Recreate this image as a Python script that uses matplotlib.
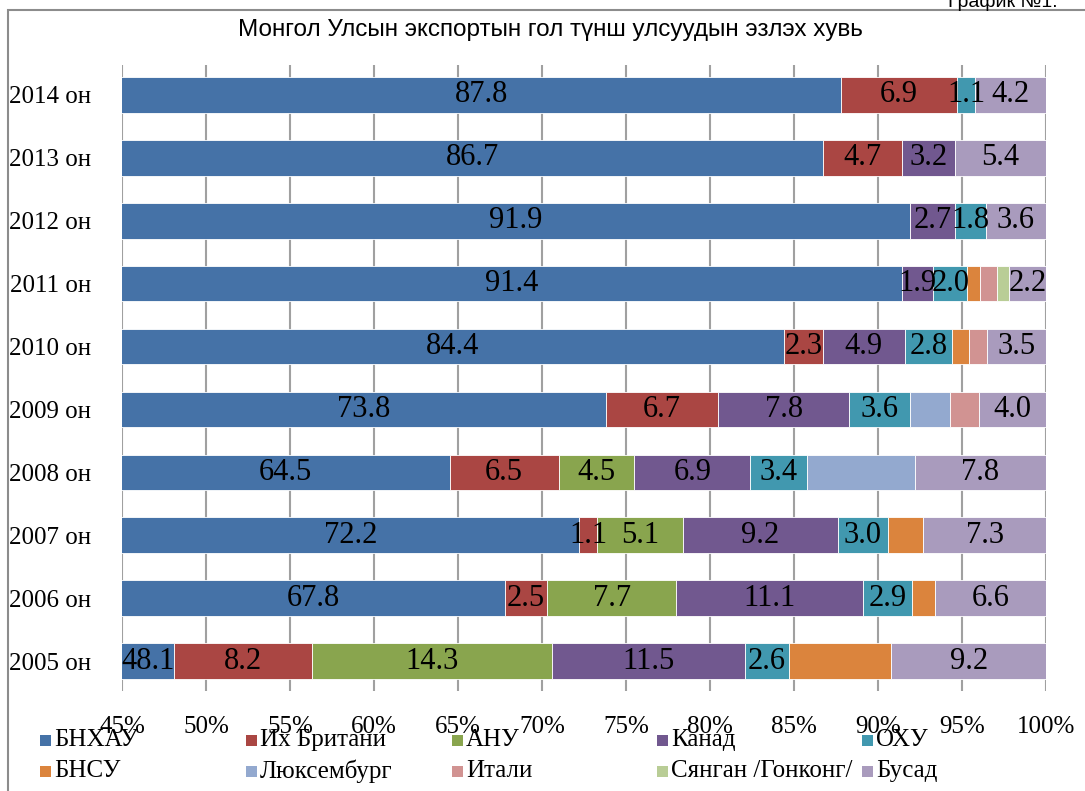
import matplotlib
matplotlib.use("Agg")
import matplotlib.pyplot as plt
from matplotlib.patches import Rectangle

W, H = 1085, 791

years = ["2005 он", "2006 он", "2007 он", "2008 он", "2009 он",
         "2010 он", "2011 он", "2012 он", "2013 он", "2014 он"]

series = ["БНХАУ", "Их Британи", "АНУ", "Канад", "ОХУ",
          "БНСУ", "Люксембург", "Итали", "Сянган /Гонконг/", "Бусад"]

china      = [48.1, 67.8, 72.2, 64.5, 73.8, 84.4, 91.4, 91.9, 86.7, 87.8]
britain    = [8.2, 2.5, 1.1, 6.5, 6.7, 2.3, 0.0, 0.0, 4.7, 6.9]
usa        = [14.3, 7.7, 5.1, 4.5, 0.0, 0.0, 0.0, 0.0, 0.0, 0.0]
canada     = [11.5, 11.1, 9.2, 6.9, 7.8, 4.9, 1.9, 2.7, 3.2, 0.0]
russia     = [2.6, 2.9, 3.0, 3.4, 3.6, 2.8, 2.0, 1.8, 0.0, 1.1]
korea      = [6.1, 1.4, 2.1, 0.0, 0.0, 1.0, 0.8, 0.0, 0.0, 0.0]
luxembourg = [0.0, 0.0, 0.0, 6.4, 2.4, 0.0, 0.0, 0.0, 0.0, 0.0]
italy      = [0.0, 0.0, 0.0, 0.0, 1.7, 1.1, 1.0, 0.0, 0.0, 0.0]
hongkong   = [0.0, 0.0, 0.0, 0.0, 0.0, 0.0, 0.7, 0.0, 0.0, 0.0]
other      = [9.2, 6.6, 7.3, 7.8, 4.0, 3.5, 2.2, 3.6, 5.4, 4.2]

values = [china, britain, usa, canada, russia, korea, luxembourg, italy, hongkong, other]
labelled = [True, True, True, True, True, False, False, False, False, True]

colors = ["#4572A7", "#AA4643", "#89A54E", "#71588F", "#4198AF",
          "#DB843D", "#93A9CF", "#D19392", "#B9CD96", "#A99BBD"]

xticks = [45, 50, 55, 60, 65, 70, 75, 80, 85, 90, 95, 100]

serif = ["Liberation Serif", "DejaVu Serif"]
sans = ["Liberation Sans", "DejaVu Sans"]

fig = plt.figure(figsize=(W / 100, H / 100), dpi=100)

# outer chart border (only left and top visible in the picture)
fig.patches.append(Rectangle((8 / W, -0.1), 1.2, 1 - 10 / H + 0.1,
                             transform=fig.transFigure, fill=False,
                             edgecolor="#8c8c8c", linewidth=1.5))

ax = fig.add_axes([122 / W, 1 - 691 / H, (1046 - 122) / W, (691 - 65) / H])

xmin, xmax = 45, 100
pos = list(range(len(years)))
left = [0.0] * len(years)
for vals, color, show in zip(values, colors, labelled):
    ax.barh(pos, vals, left=left, height=0.57, color=color,
            edgecolor="white", linewidth=0.6, zorder=3)
    if show:
        for i, v in enumerate(vals):
            if v <= 0:
                continue
            a = max(left[i], xmin)
            b = left[i] + v
            ax.text((a + b) / 2, pos[i], f"{v:.1f}", ha="center", va="center",
                    fontsize=22, family=serif, color="black", zorder=5)
    left = [l + v for l, v in zip(left, vals)]

ax.set_xlim(xmin, xmax)
ax.set_ylim(-0.47, len(years) - 0.53)
ax.set_xticks(xticks)
ax.set_xticklabels([f"{t}%" for t in xticks], family=serif, fontsize=18)
ax.set_yticks(pos)
ax.set_yticklabels(years, family=serif, fontsize=18)
ax.tick_params(axis="x", length=0, pad=18)
ax.tick_params(axis="y", length=0, pad=22)
for s in ax.spines.values():
    s.set_visible(False)
ax.grid(axis="x", color="#a0a0a0", linewidth=1.5, zorder=0)
ax.set_axisbelow(True)

fig.text(550 / W, 1 - 30 / H, "Монгол Улсын экспортын гол түнш улсуудын эзлэх хувь",
         ha="center", va="center", fontsize=17.5, family=sans)
fig.text(1058 / W, 1 - 7 / H, "График №1.", ha="right", va="baseline",
         fontsize=14, family=sans)

# legend laid out in two rows of five like the original
col_x = [40, 246, 452, 657, 862]
row_y = [740, 771]
for i, (name, color) in enumerate(zip(series, colors)):
    r, c = divmod(i, 5)
    x, y = col_x[c], row_y[r]
    fig.patches.append(Rectangle((x / W, 1 - (y + 5.5) / H), 11 / W, 11 / H,
                                 transform=fig.transFigure, facecolor=color,
                                 edgecolor="none"))
    fig.text((x + 14) / W, 1 - y / H, name, ha="left", va="center",
             fontsize=18, family=serif)

fig.savefig("out.png", dpi=100)
